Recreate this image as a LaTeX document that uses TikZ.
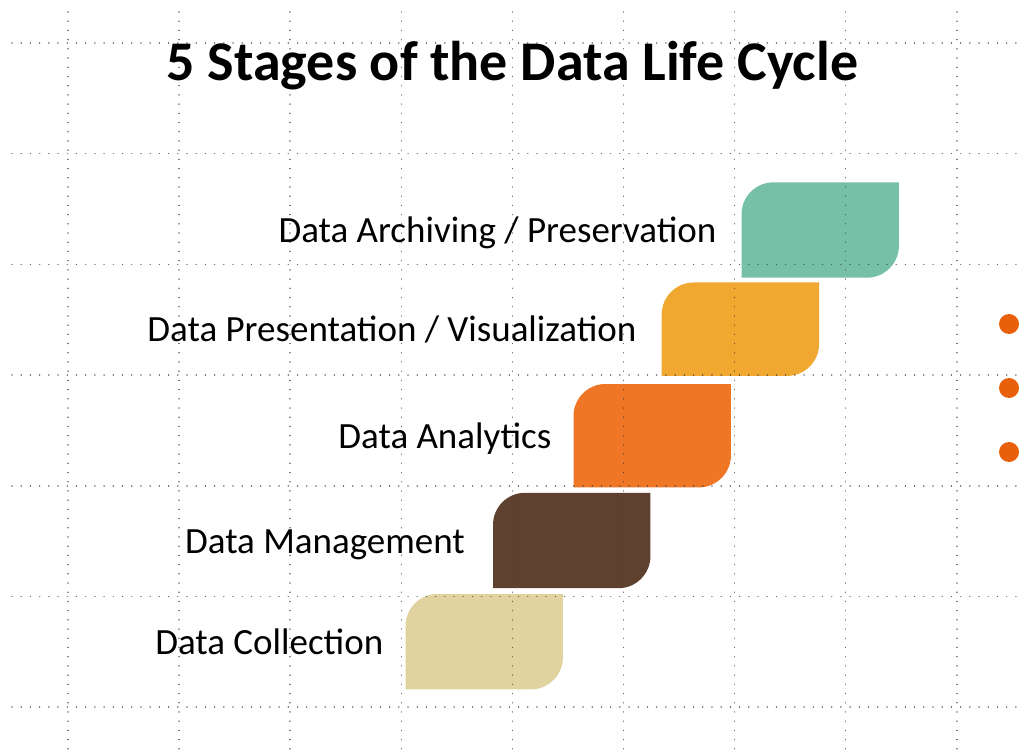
\documentclass[tikz,border=0pt]{standalone}
\usepackage{fontspec}
\setmainfont{Carlito}
\usetikzlibrary{positioning}

\definecolor{archteal}{HTML}{77C0A8}
\definecolor{presyellow}{HTML}{F0A830}
\definecolor{analorange}{HTML}{EE7624}
\definecolor{mgmtbrown}{HTML}{5E412F}
\definecolor{collbeige}{HTML}{E0D3A0}
\definecolor{dotorange}{HTML}{E8600A}

\begin{document}
\begin{tikzpicture}[x=1pt, y=-1pt,
    stagebox/.style={rectangle, inner sep=0pt, minimum width=157pt, minimum height=95pt},
    stagelabel/.style={inner sep=0pt, text height=25pt, text depth=0pt, font=\fontsize{37}{44}\selectfont},
    gridline/.style={black!80, opacity=0.75, line width=1.5pt, line cap=round, dash pattern=on 0.01pt off 9.2pt},
    bulletdot/.style={circle, fill=dotorange, inner sep=0pt, minimum size=20pt},
  ]
  \useasboundingbox (0,0) rectangle (1025,751);

  % the five stages, bottom to top
  \node[stagebox] (coll) at (484.2,641.7) {};
  \node[stagebox] (mgmt) at (571.7,540.5) {};
  \node[stagebox, minimum height=103pt] (anal) at (652.2,435.7) {};
  \node[stagebox, minimum height=93pt] (pres) at (740.4,329.2) {};
  \node[stagebox] (arch) at (820.2,230) {};

  \foreach \n/\c in {coll/collbeige, mgmt/mgmtbrown, anal/analorange, pres/presyellow, arch/archteal}
    \fill[\c] (\n.north east) [rounded corners=32pt] -- (\n.south east) [sharp corners] -- (\n.south west)
      [rounded corners=32pt] -- (\n.north west) [sharp corners] -- cycle;

  % dotted grid
  \foreach \gx in {0,...,8}
    \draw[gridline] ({68+111.1*\gx},12) -- ({68+111.1*\gx},751);
  \foreach \gy in {0,...,6}
    \draw[gridline] (12,{43+110.7*\gy}) -- (1025,{43+110.7*\gy});

  \node[inner sep=0pt, text height=38pt, text depth=0pt, font=\bfseries\fontsize{56}{66}\selectfont]
    (title) at (512.5,62) {5 Stages of the Data Life Cycle};

  \node[stagelabel, left=25pt of arch] (archtext) {Data Archiving / Preservation};
  \node[stagelabel, left=25pt of pres] (prestext) {Data Presentation / Visualization};
  \node[stagelabel, left=22pt of anal] (analtext) {Data Analytics};
  \node[stagelabel, left=28pt of mgmt] (mgmttext) {Data Management};
  \node[stagelabel, left=22pt of coll] (colltext) {Data Collection};

  \foreach \i/\y in {1/324, 2/388, 3/452}
    \node[bulletdot] (bullet\i) at (1009,\y) {};
\end{tikzpicture}
\end{document}
